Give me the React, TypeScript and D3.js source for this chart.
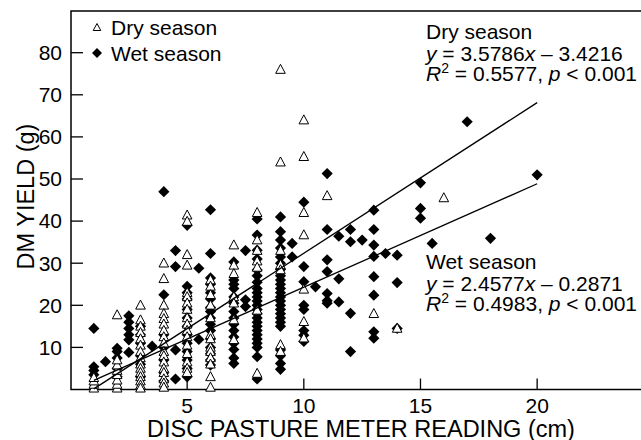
import React from "react";
import * as d3 from "d3";

// Dry season observations (x = disc pasture meter reading cm, y = DM yield g)
const dryX: number[] = [
  1, 1, 1, 1,
  2, 2, 2, 2, 2, 2, 2, 2,
  3, 3, 3, 3, 3, 3, 3, 3, 3, 3, 3, 3, 3, 3, 3,
  4, 4, 4, 4, 4, 4, 4, 4, 4, 4, 4, 4, 4, 4, 4, 4, 4,
  5, 5, 5, 5, 5, 5, 5, 5, 5, 5, 5, 5, 5, 5, 5, 5, 5,
  6, 6, 6, 6, 6, 6, 6, 6, 6, 6, 6, 6, 6,
  7, 7, 7, 7, 7, 7, 7,
  8, 8, 8, 8, 8, 8, 8,
  9, 9, 9, 9, 9, 9, 9,
  10, 10, 10, 10, 10, 10, 10,
  11, 13, 14, 16,
];
const dryY: number[] = [
  0.3, 1.2, 2.0, 2.8,
  0.3, 1.2, 2.2, 3.5, 4.5, 5.8, 7.0, 17.7,
  20, 16.5, 15, 13.5, 12, 10.5, 9, 7.5, 6, 5, 4, 3, 2, 1, 0.3,
  30, 26.3, 20, 18, 16.8, 15.5, 14, 12.5, 11, 9, 8, 6.5, 5, 4, 2.5, 1.5, 0.5,
  41.4, 39.9, 32, 29.5, 23, 22, 20.5, 19, 17, 15.5, 14, 12.5, 10.5, 8.5, 6.5, 5, 4,
  26, 24.5, 22.5, 20, 17, 13, 12, 10, 9, 7.5, 6, 3, 0.5,
  34.3, 29.5, 27.5, 22, 20.5, 16.5, 11.8,
  42, 35.5, 33, 30.5, 29, 18.8, 3.8,
  76, 54, 33, 29.6, 28.4, 10.6, 9,
  64, 55.3, 42, 36.7, 23.8, 16.1, 12.2,
  46, 18, 14.5, 45.5,
];

// Wet season observations
const wetX: number[] = [
  1, 1, 1, 1, 1.5,
  2, 2, 2, 2, 2,
  2.5, 2.5, 2.5, 2.5, 2.5, 2.5,
  3, 3, 3, 3, 3, 3, 3.5,
  4, 4, 4, 4, 4, 4, 4,
  4.5, 4.5, 4.5, 4.5,
  5, 5, 5, 5, 5, 5, 5, 5, 5, 5, 5, 5, 5,
  5.5, 5.5,
  6, 6, 6, 6, 6, 6, 6, 6, 6, 6, 6, 6, 6, 6, 6, 6,
  7, 7, 7, 7, 7, 7, 7, 7, 7, 7, 7, 7, 7, 7, 7,
  7.5, 7.5, 7.5,
  8, 8, 8, 8, 8, 8, 8, 8, 8, 8, 8, 8, 8, 8, 8, 8, 8, 8, 8, 8, 8, 8, 8, 8,
  9, 9, 9, 9, 9, 9, 9, 9, 9, 9, 9, 9, 9, 9, 9, 9, 9, 9, 9, 9, 9, 9, 9, 9,
  9.5, 9.5,
  10, 10, 10, 10, 10, 10, 10, 10,
  10.5,
  11, 11, 11, 11, 11, 11, 11,
  11.5, 11.5, 11.5,
  12, 12, 12, 12,
  12.5,
  13, 13, 13, 13, 13, 13, 13, 13,
  13.5,
  14, 14, 14,
  15, 15, 15,
  15.5, 17, 18, 20,
];
const wetY: number[] = [
  14.5, 5.4, 4.5, 3.5, 6.6,
  9.8, 9, 7.5, 5, 3,
  17.5, 16, 14.5, 13, 11.8, 8.8,
  15, 13, 11, 8, 6, 3, 10.3,
  47, 22.5, 13, 10, 7, 4, 2,
  33, 29.2, 9.4, 2.5,
  39, 24.5, 23, 21.5, 19, 17, 15, 13, 11, 9, 7, 5, 3,
  28.8, 11.9,
  42.7, 32.3, 26.5, 25, 23, 21.5, 19.5, 18.5, 17, 15.5, 14, 12, 10, 8.5, 7, 5.8,
  30.3, 26, 25, 24, 22, 20.5, 18.5, 17, 15.5, 14, 12.5, 11, 9.5, 7.5, 6.2,
  33, 21.3, 19.7,
  40.5, 36.7, 33.1, 31, 28.4, 27, 25.5, 24, 23, 22, 21, 20, 19, 18, 17, 16, 15, 14, 13, 12, 11, 10, 7.8, 2.5,
  41, 37.5, 35.5, 33.6, 31.5, 30, 28.5, 27, 26, 25, 24, 23, 22, 21, 20, 19, 18, 17, 16, 15, 9.4, 8, 6.2, 4.8,
  34.7, 31.5,
  44.5, 29.2, 25.6, 20, 19, 14, 12.9, 11.4,
  24.4,
  51.3, 38, 30.8, 28, 22.8, 21.1, 20.5,
  36.4, 26.3, 20.8,
  38, 35.1, 18.1, 9,
  35.5,
  42.6, 38, 34.3, 31.6, 26.8, 22.4, 13.7, 12.2,
  32.3,
  31.9, 25.4, 14.5,
  49.1, 43, 40.7,
  34.7, 63.6, 35.9, 51,
];

const xTicks: number[] = [5, 10, 15, 20];
const yTicks: number[] = [10, 20, 30, 40, 50, 60, 70, 80];

// Regression fits (slope, intercept) and fitted range
const drySlope = 3.5786;
const dryIntercept = -3.4216;
const wetSlope = 2.4577;
const wetIntercept = -0.2871;
const fitRange: number[] = [1, 20];

const FONT = "'Liberation Sans', Arial, Helvetica, sans-serif";

const W = 641;
const H = 440;

export default function App() {
  const x = d3.scaleLinear().domain([0, 25]).range([70.5, 653.8]);
  const y = d3.scaleLinear().domain([0, 90]).range([389.5, 10.6]);
  const left = 71;
  const right = 653;
  const top = 11;
  const bottom = 389.5;

  const line = d3
    .line<number>()
    .x((d) => x(d));
  const dryLine = d3.line<number>().x((d) => x(d)).y((d) => y(drySlope * d + dryIntercept));
  const wetLine = d3.line<number>().x((d) => x(d)).y((d) => y(wetSlope * d + wetIntercept));
  void line;

  const tri = "M0,-5.2L4.8,3.8L-4.8,3.8Z";
  const triSmall = "M0,-4L3.8,3L-3.8,3Z";
  const diamond = "M0,-5.6L5.6,0L0,5.6L-5.6,0Z";
  const diamondSmall = "M0,-5L5,0L0,5L-5,0Z";

  return (
    <svg
      width={W}
      height={H}
      style={{ position: "absolute", left: 0, top: 0, background: "#fff" }}
      fontFamily={FONT}
    >
      <rect x={0} y={0} width={W} height={H} fill="#fff" />
      {/* frame */}
      <rect x={left} y={top} width={right - left} height={bottom - top} fill="none" stroke="#000" strokeWidth={1.5} />

      {/* y ticks */}
      {yTicks.map((t) => (
        <g key={"y" + t}>
          <line x1={left} x2={left + 12} y1={y(t)} y2={y(t)} stroke="#000" strokeWidth={1.3} />
          <text x={62} y={y(t)} dy="0.35em" textAnchor="end" fontSize={21}>
            {t}
          </text>
        </g>
      ))}
      {/* x ticks */}
      {xTicks.map((t) => (
        <g key={"x" + t}>
          <line x1={x(t)} x2={x(t)} y1={bottom} y2={bottom - 11} stroke="#000" strokeWidth={1.3} />
          <text x={x(t)} y={412.5} textAnchor="middle" fontSize={21}>
            {t}
          </text>
        </g>
      ))}

      {/* axis titles */}
      <text x={361} y={436.5} textAnchor="middle" fontSize={23.5}>
        DISC PASTURE METER READING (cm)
      </text>
      <text
        transform={`translate(33.5,196.5) rotate(-90)`}
        textAnchor="middle"
        fontSize={23.5}
      >
        DM YIELD (g)
      </text>

      {/* wet points */}
      {wetX.map((d, i) => (
        <path key={"w" + i} d={diamond} transform={`translate(${x(d)},${y(wetY[i])})`} fill="#000" />
      ))}
      {/* dry points */}
      {dryX.map((d, i) => (
        <path
          key={"d" + i}
          d={tri}
          transform={`translate(${x(d)},${y(dryY[i])})`}
          fill="#fff"
          stroke="#000"
          strokeWidth={1}
        />
      ))}

      {/* regression lines */}
      <path d={dryLine(fitRange) || ""} fill="none" stroke="#000" strokeWidth={1.3} />
      <path d={wetLine(fitRange) || ""} fill="none" stroke="#000" strokeWidth={1.3} />

      {/* legend */}
      <path d={triSmall} transform="translate(97,27.5)" fill="#fff" stroke="#000" strokeWidth={1} />
      <text x={111} y={35} fontSize={21}>
        Dry season
      </text>
      <path d={diamondSmall} transform="translate(97,53)" fill="#000" />
      <text x={111} y={61} fontSize={21}>
        Wet season
      </text>

      {/* annotations */}
      <text x={426} y={39} fontSize={21}>
        Dry season
      </text>
      <text x={426} y={60.5} fontSize={21}>
        <tspan fontStyle="italic">y</tspan> = 3.5786<tspan fontStyle="italic">x</tspan> – 3.4216
      </text>
      <text x={426} y={80.5} fontSize={21}>
        <tspan fontStyle="italic">R</tspan>
        <tspan fontSize={14} dy={-8}>2</tspan>
        <tspan dy={8}> = 0.5577, </tspan>
        <tspan fontStyle="italic">p</tspan> &lt; 0.001
      </text>

      <text x={426} y={268.5} fontSize={21}>
        Wet season
      </text>
      <text x={426} y={290.5} fontSize={21}>
        <tspan fontStyle="italic">y</tspan> = 2.4577<tspan fontStyle="italic">x</tspan> – 0.2871
      </text>
      <text x={426} y={310.5} fontSize={21}>
        <tspan fontStyle="italic">R</tspan>
        <tspan fontSize={14} dy={-8}>2</tspan>
        <tspan dy={8}> = 0.4983, </tspan>
        <tspan fontStyle="italic">p</tspan> &lt; 0.001
      </text>
    </svg>
  );
}
